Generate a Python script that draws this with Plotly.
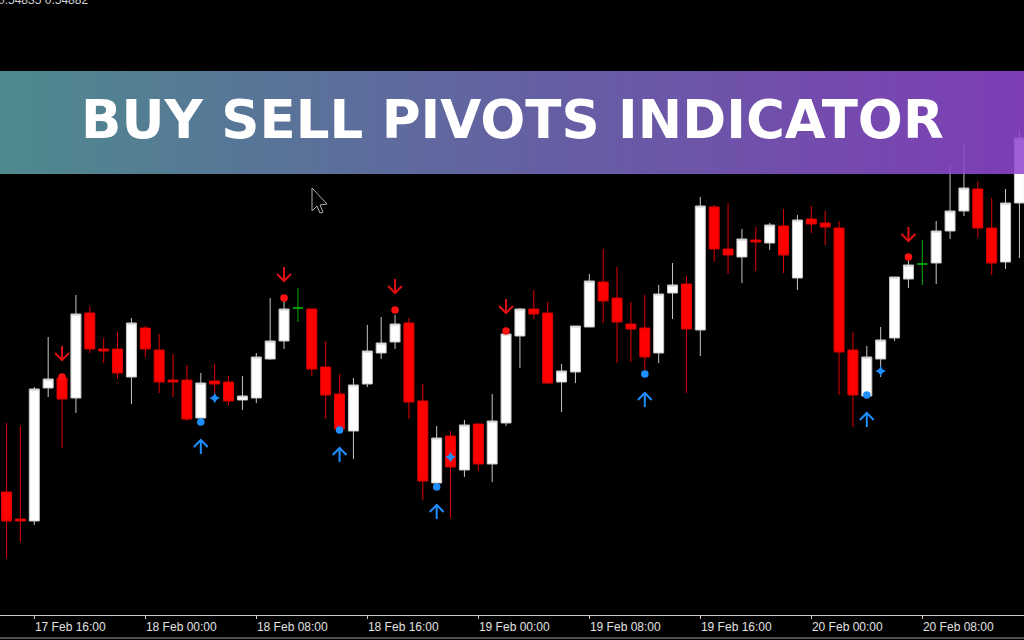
import pandas as pd
import plotly.graph_objects as go

# ---------------- data ----------------
start_time = "2025-02-17 14:00"
n_candles = 74
times = pd.date_range(start_time, periods=n_candles, freq="h")

open_ = [0.54808, 0.54781, 0.54779, 0.54912, 0.54922, 0.54902, 0.54987, 0.54951, 0.54951, 0.54923,
         0.54972, 0.54950, 0.54920, 0.54920, 0.54882, 0.54919, 0.54918, 0.54900, 0.54902, 0.54941,
         0.54959, 0.54992, 0.54991, 0.54933, 0.54906, 0.54869, 0.54916, 0.54947, 0.54958, 0.54977,
         0.54899, 0.54817, 0.54864, 0.54830, 0.54876, 0.54836, 0.54877, 0.54964, 0.54991, 0.54987,
         0.54918, 0.54928, 0.54973, 0.55018, 0.55002, 0.54976, 0.54972, 0.54947, 0.55007, 0.55016,
         0.54970, 0.55093, 0.55051, 0.55043, 0.55060, 0.55057, 0.55074, 0.55022, 0.55081, 0.55077,
         0.55072, 0.54950, 0.54904, 0.54941, 0.54962, 0.55021, 0.55036, 0.55037, 0.55069, 0.55089,
         0.55111, 0.55072, 0.55038, 0.55097]
high = [0.54877, 0.54874, 0.54913, 0.54963, 0.54924, 0.55005, 0.54993, 0.54962, 0.54968, 0.54982,
        0.54974, 0.54966, 0.54946, 0.54935, 0.54927, 0.54936, 0.54924, 0.54924, 0.54947, 0.55002,
        0.54999, 0.55012, 0.54991, 0.54959, 0.54926, 0.54922, 0.54975, 0.54983, 0.54985, 0.54982,
        0.54916, 0.54874, 0.54869, 0.54880, 0.54876, 0.54906, 0.54969, 0.54992, 0.55010, 0.54998,
        0.54936, 0.54974, 0.55026, 0.55051, 0.55033, 0.54998, 0.55005, 0.55015, 0.55037, 0.55024,
        0.55103, 0.55095, 0.55097, 0.55071, 0.55073, 0.55077, 0.55091, 0.55085, 0.55094, 0.55089,
        0.55079, 0.54968, 0.54954, 0.54973, 0.55023, 0.55040, 0.55060, 0.55079, 0.55134, 0.55155,
        0.55119, 0.55102, 0.55111, 0.55170]
low = [0.54742, 0.54758, 0.54775, 0.54903, 0.54852, 0.54887, 0.54947, 0.54937, 0.54921, 0.54896,
       0.54943, 0.54907, 0.54903, 0.54879, 0.54881, 0.54898, 0.54895, 0.54890, 0.54897, 0.54940,
       0.54951, 0.54978, 0.54924, 0.54881, 0.54871, 0.54841, 0.54913, 0.54941, 0.54951, 0.54881,
       0.54800, 0.54812, 0.54782, 0.54823, 0.54829, 0.54818, 0.54874, 0.54932, 0.54981, 0.54916,
       0.54888, 0.54917, 0.54973, 0.54977, 0.54937, 0.54938, 0.54930, 0.54937, 0.54981, 0.54907,
       0.54944, 0.55038, 0.55026, 0.55017, 0.55029, 0.55050, 0.55027, 0.55010, 0.55067, 0.55055,
       0.54905, 0.54873, 0.54904, 0.54923, 0.54959, 0.55012, 0.55015, 0.55016, 0.55061, 0.55084,
       0.55063, 0.55025, 0.55031, 0.55042]
close = [0.54779, 0.54779, 0.54911, 0.54921, 0.54901, 0.54986, 0.54951, 0.54949, 0.54927, 0.54977,
         0.54951, 0.54918, 0.54918, 0.54881, 0.54917, 0.54916, 0.54899, 0.54904, 0.54943, 0.54959,
         0.54991, 0.54992, 0.54931, 0.54905, 0.54871, 0.54915, 0.54949, 0.54957, 0.54976, 0.54898,
         0.54819, 0.54862, 0.54833, 0.54875, 0.54836, 0.54879, 0.54966, 0.54991, 0.54986, 0.54917,
         0.54929, 0.54974, 0.55019, 0.54999, 0.54978, 0.54971, 0.54943, 0.55006, 0.55015, 0.54971,
         0.55094, 0.55051, 0.55045, 0.55061, 0.55058, 0.55075, 0.55045, 0.55080, 0.55076, 0.55073,
         0.54948, 0.54905, 0.54943, 0.54960, 0.55023, 0.55035, 0.55036, 0.55069, 0.55089, 0.55112,
         0.55072, 0.55037, 0.55097, 0.55162]

# sell pivots (red dot + down arrow)
sell_times = ["2025-02-17 18:00", "2025-02-18 10:00", "2025-02-18 18:00", "2025-02-19 02:00", "2025-02-20 07:00"]
sell_dot = [0.54923, 0.55002, 0.54990, 0.54969, 0.55043]
sell_arrow = [0.54947, 0.55026, 0.55014, 0.54994, 0.55066]
# buy pivots (blue dot + up arrow)
buy_times = ["2025-02-18 04:00", "2025-02-18 14:00", "2025-02-18 21:00", "2025-02-19 12:00", "2025-02-20 04:00"]
buy_dot = [0.54878, 0.54870, 0.54813, 0.54926, 0.54905]
buy_arrow = [0.54853, 0.54845, 0.54788, 0.54900, 0.54880]
# blue star markers
star_times = ["2025-02-18 05:00", "2025-02-18 22:00", "2025-02-20 05:00"]
star_price = [0.54902, 0.54843, 0.54929]

title_text = "BUY SELL PIVOTS INDICATOR"
price_text = "0.54835 0.54882"

# ---------------- figure ----------------
W, H = 1024, 640
PLOT_H = 615
x_range = [pd.Timestamp("2025-02-17 13:31:40"), pd.Timestamp("2025-02-20 15:19:47")]
y_range = [0.54685, 0.55300]
px_price = (y_range[1] - y_range[0]) / PLOT_H  # price per pixel

fig = go.Figure()

reg_idx = [i for i in range(n_candles) if open_[i] != close[i]]
doji_idx = [i for i in range(n_candles) if open_[i] == close[i]]

fig.add_trace(go.Candlestick(
    x=[times[i] for i in reg_idx],
    open=[open_[i] for i in reg_idx], high=[high[i] for i in reg_idx],
    low=[low[i] for i in reg_idx], close=[close[i] for i in reg_idx],
    increasing=dict(fillcolor="#ffffff", line=dict(color="#c8c8c8", width=1)),
    decreasing=dict(fillcolor="#ff0000", line=dict(color="#e00000", width=1)),
    whiskerwidth=0, hoverinfo="skip", showlegend=False))

fig.add_trace(go.Candlestick(
    x=[times[i] for i in doji_idx],
    open=[open_[i] for i in doji_idx], high=[high[i] for i in doji_idx],
    low=[low[i] for i in doji_idx], close=[close[i] for i in doji_idx],
    increasing=dict(fillcolor="#00b000", line=dict(color="#00b000", width=1)),
    decreasing=dict(fillcolor="#00b000", line=dict(color="#00b000", width=1)),
    whiskerwidth=0, hoverinfo="skip", showlegend=False))


def arrow_path(ts, ys, up):
    xs, yv = [], []
    half_w = pd.Timedelta(minutes=30)
    h = 7 * px_price
    for t, y in zip(ts, ys):
        t = pd.Timestamp(t)
        if up:
            tip, tail, arm = y + h, y - h, y + h - 7 * px_price
        else:
            tip, tail, arm = y - h, y + h, y - h + 7 * px_price
        xs += [t, t, None, t - half_w, t, t + half_w, None]
        yv += [tail, tip, None, arm, tip, arm, None]
    return xs, yv


sx, sy = arrow_path(sell_times, sell_arrow, up=False)
fig.add_trace(go.Scatter(x=sx, y=sy, mode="lines", line=dict(color="#e01010", width=2),
                         hoverinfo="skip", showlegend=False))
bx, by = arrow_path(buy_times, buy_arrow, up=True)
fig.add_trace(go.Scatter(x=bx, y=by, mode="lines", line=dict(color="#1e8fff", width=2),
                         hoverinfo="skip", showlegend=False))

fig.add_trace(go.Scatter(x=pd.to_datetime(sell_times), y=sell_dot, mode="markers",
                         marker=dict(color="#ff1010", size=7.5, line=dict(width=0)),
                         hoverinfo="skip", showlegend=False))
fig.add_trace(go.Scatter(x=pd.to_datetime(buy_times), y=buy_dot, mode="markers",
                         marker=dict(color="#1e8fff", size=7.5, line=dict(width=0)),
                         hoverinfo="skip", showlegend=False))
fig.add_trace(go.Scatter(x=pd.to_datetime(star_times), y=star_price, mode="markers",
                         marker=dict(color="#1e8fff", size=8, symbol="star-diamond", line=dict(width=0)),
                         hoverinfo="skip", showlegend=False))

# banner (semi-transparent gradient) on overlay axes
b_top = 1 - 71 / PLOT_H
b_bot = 1 - 174 / PLOT_H
fig.add_trace(go.Scatter(x=[0, 1, 1, 0, 0], y=[b_bot, b_bot, b_top, b_top, b_bot],
                         xaxis="x2", yaxis="y2", mode="none", fill="toself",
                         fillgradient=dict(type="horizontal",
                                           colorscale=[[0, "rgb(89,158,162)"], [0.5, "rgb(114,112,186)"],
                                                       [1, "rgb(145,70,208)"]]),
                         opacity=0.87, hoverinfo="skip", showlegend=False))

fig.add_annotation(text=title_text, xref="paper", yref="paper", x=0.5, y=1 - 120 / PLOT_H,
                   xanchor="center", yanchor="middle", showarrow=False,
                   font=dict(family="DejaVu Sans", size=53, color="#ffffff", weight="bold"))

fig.add_annotation(text=price_text, xref="paper", yref="paper", x=-4 / W, y=1 + 0 / PLOT_H,
                   xanchor="left", yanchor="middle", showarrow=False,
                   font=dict(family="Liberation Sans", size=12, color="#d0d0d0"))

# mouse cursor + window border line
def P(px, py):
    return f"{px / W:.5f},{1 - py / PLOT_H:.5f}"

cursor = ("M " + P(312, 188) + " L " + P(312, 211) + " L " + P(317, 206) + " L " + P(320, 213)
          + " L " + P(323, 212) + " L " + P(320, 205) + " L " + P(327, 204) + " Z")
fig.add_shape(type="path", path=cursor, xref="paper", yref="paper",
              fillcolor="#000000", line=dict(color="#b0b0b0", width=1), layer="above")
fig.add_shape(type="line", xref="paper", yref="paper", x0=0, x1=1,
              y0=-(638 - PLOT_H) / PLOT_H, y1=-(638 - PLOT_H) / PLOT_H,
              line=dict(color="#9a9a9a", width=1))

fig.update_layout(
    width=W, height=H,
    margin=dict(l=0, r=0, t=0, b=H - PLOT_H, pad=0),
    paper_bgcolor="#000000", plot_bgcolor="#000000",
    boxgap=0.28, boxgroupgap=0,
    showlegend=False,
    xaxis=dict(type="date", range=x_range, rangeslider=dict(visible=False),
               showgrid=False, zeroline=False, showline=True, linecolor="#c8c8c8", linewidth=1,
               ticks="outside", ticklen=3, tickcolor="#c8c8c8", tickwidth=1,
               tick0="2025-02-17 00:00", dtick=8 * 3600 * 1000, tickformat="%d %b %H:%M",
               ticklabelshift=36, ticklabelstandoff=-2,
               tickfont=dict(family="Liberation Sans", size=12, color="#e0e0e0"), fixedrange=True),
    yaxis=dict(range=y_range, visible=False, showgrid=False, zeroline=False, fixedrange=True),
    xaxis2=dict(overlaying="x", anchor="y2", range=[0, 1], visible=False, fixedrange=True),
    yaxis2=dict(overlaying="y", anchor="x2", range=[0, 1], visible=False, fixedrange=True),
)

fig.write_html("out.html", config={"displayModeBar": False},
               post_script="document.body.style.margin='0';document.body.style.overflow='hidden';")
